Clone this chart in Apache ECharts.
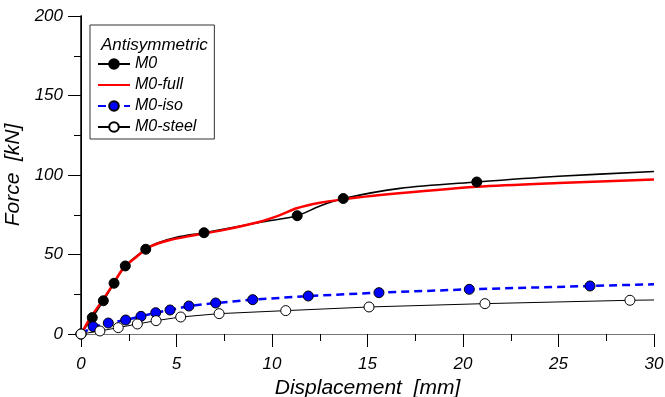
<!DOCTYPE html>
<html>
<head>
<meta charset="utf-8">
<script src="https://cdn.jsdelivr.net/npm/echarts@6/dist/echarts.min.js"></script>
<style>
  html, body { margin: 0; padding: 0; background: #fff; }
  #chart { width: 665px; height: 397px; }
</style>
</head>
<body>
<div id="chart"></div>
<script>
// values: [displacement mm, force kN]
const m0Marks = [[0, 0], [0.59, 10.3], [1.17, 20.9], [1.73, 31.9], [2.32, 42.8], [3.39, 53.3], [6.44, 63.7], [11.32, 74.4], [13.73, 85.2], [20.72, 95.6]];
const m0Path = [[3.96, 57.0], [5.0, 60.8], [9.54, 70.6], [12.51, 80.5], [16.7, 91.6], [25, 99.2], [30, 102.2]];
const fullPath = [[0, 0], [0.12, 2.5], [0.47, 9.9], [1.08, 20.3], [1.6, 29.8], [2.21, 41.3], [2.91, 48.6], [3.61, 54.9], [4.66, 59.1], [5.7, 61.6], [7.5, 65.5], [9.37, 70.6], [10.42, 74.8], [11.29, 79.1], [12.51, 82.6], [13.73, 84.7], [15.66, 87.4], [20.72, 92.6], [25, 95.0], [30, 97.1]];
const isoMarks = [[0, 0], [0.64, 4.6], [1.43, 6.9], [2.34, 8.8], [3.14, 11.1], [3.91, 13.4], [4.66, 15.1], [5.65, 17.6], [7.05, 19.5], [8.99, 21.6], [11.9, 23.9], [15.6, 26.0], [20.33, 28.1], [26.65, 30.2]];
const isoPath = [[30, 31.3]];
const steelMarks = [[0, 0], [0.99, 1.9], [1.95, 4.0], [2.95, 6.3], [3.93, 8.4], [5.22, 10.7], [7.23, 12.8], [10.72, 14.7], [15.08, 17.0], [21.15, 19.1], [28.74, 21.2]];
const steelPath = [[30, 21.4]];

const seriesNames = ['M0', 'M0-full', 'M0-iso', 'M0-steel'];
const legendTitle = 'Antisymmetric';
const xName = 'Displacement  [mm]';
const yName = 'Force  [kN]';

const FONT = '"Liberation Sans", Arial, sans-serif';

// marked points keep their symbol, path points get none
const merge = (marks, path) =>
    [...marks.map(p => ({ value: p })), ...path.map(p => ({ value: p, symbol: 'none' }))]
        .sort((a, b) => a.value[0] - b.value[0]);

const labelStyle = { fontFamily: FONT, fontStyle: 'italic', fontSize: 17, color: '#000' };
const nameStyle = { fontFamily: FONT, fontStyle: 'italic', fontSize: 21, color: '#000' };

const chart = echarts.init(document.getElementById('chart'));

chart.setOption({
    animation: false,
    title: {
        text: legendTitle,
        left: 96,
        top: 32,
        textStyle: { fontFamily: FONT, fontStyle: 'italic', fontWeight: 'normal', fontSize: 17, color: '#000' },
        z: 10,
    },
    legend: {
        orient: 'vertical',
        left: 90,
        top: 25,
        padding: [31, 18, 4, 7],
        itemWidth: 32,
        itemHeight: 12,
        itemGap: 5,
        backgroundColor: '#fff',
        borderColor: '#333',
        borderWidth: 1,
        textStyle: { fontFamily: FONT, fontStyle: 'italic', fontSize: 16, color: '#000' },
        // the red curve has no markers, so hide its legend symbol
        data: seriesNames.map(n => (n === 'M0-full' ? { name: n, itemStyle: { opacity: 0 } } : n)),
        z: 5,
    },
    grid: { left: 81, right: 11, top: 16, bottom: 63, outerBoundsMode: 'none' },
    xAxis: [
        {
            type: 'value',
            min: 0,
            max: 30,
            interval: 5,
            name: xName,
            nameLocation: 'middle',
            nameGap: 34,
            nameTextStyle: nameStyle,
            axisLine: { onZero: false, lineStyle: { color: '#000', width: 1 } },
            axisTick: { inside: false, length: 13, lineStyle: { color: '#000' } },
            minorTick: { show: true, splitNumber: 2, length: 7, lineStyle: { color: '#000' } },
            axisLabel: Object.assign({ margin: 22 }, labelStyle),
            splitLine: { show: false },
        },
        {
            type: 'value',
            position: 'top',
            min: 0,
            max: 30,
            axisLine: { show: true, lineStyle: { color: '#777', width: 1 } },
            axisTick: { show: false },
            axisLabel: { show: false },
            splitLine: { show: false },
        },
    ],
    yAxis: [
        {
            type: 'value',
            min: 0,
            max: 200,
            interval: 50,
            name: yName,
            nameLocation: 'middle',
            nameGap: 48,
            nameTextStyle: nameStyle,
            axisLine: { show: true, onZero: false, lineStyle: { color: '#000', width: 1 } },
            axisTick: { show: true, inside: false, length: 13, lineStyle: { color: '#000' } },
            minorTick: { show: true, splitNumber: 2, length: 7, lineStyle: { color: '#000' } },
            axisLabel: Object.assign({ margin: 18 }, labelStyle),
            splitLine: { show: false },
        },
        {
            type: 'value',
            position: 'right',
            min: 0,
            max: 200,
            axisLine: { show: true, lineStyle: { color: '#000', width: 1.5 } },
            axisTick: { show: false },
            axisLabel: { show: false },
            splitLine: { show: false },
        },
    ],
    series: [
        {
            name: seriesNames[0],
            type: 'line',
            smooth: 0.3,
            data: merge(m0Marks, m0Path),
            symbol: 'circle',
            symbolSize: 10,
            showAllSymbol: true,
            lineStyle: { color: '#000', width: 1.6 },
            itemStyle: { color: '#000', borderColor: '#000', borderWidth: 1 },
        },
        {
            name: seriesNames[1],
            type: 'line',
            smooth: 0.3,
            data: fullPath,
            symbol: 'none',
            lineStyle: { color: '#ff0000', width: 2.5 },
            itemStyle: { color: '#ff0000' },
        },
        {
            name: seriesNames[2],
            type: 'line',
            data: merge(isoMarks, isoPath),
            symbol: 'circle',
            symbolSize: 10,
            showAllSymbol: true,
            lineStyle: { color: '#0000ff', width: 2.5, type: [8, 5] },
            itemStyle: { color: '#0000ff', borderColor: '#000', borderWidth: 1 },
        },
        {
            name: seriesNames[3],
            type: 'line',
            data: merge(steelMarks, steelPath),
            symbol: 'circle',
            symbolSize: 10,
            showAllSymbol: true,
            lineStyle: { color: '#000', width: 1 },
            itemStyle: { color: '#fff', borderColor: '#000', borderWidth: 1 },
        },
    ],
});
</script>
</body>
</html>
